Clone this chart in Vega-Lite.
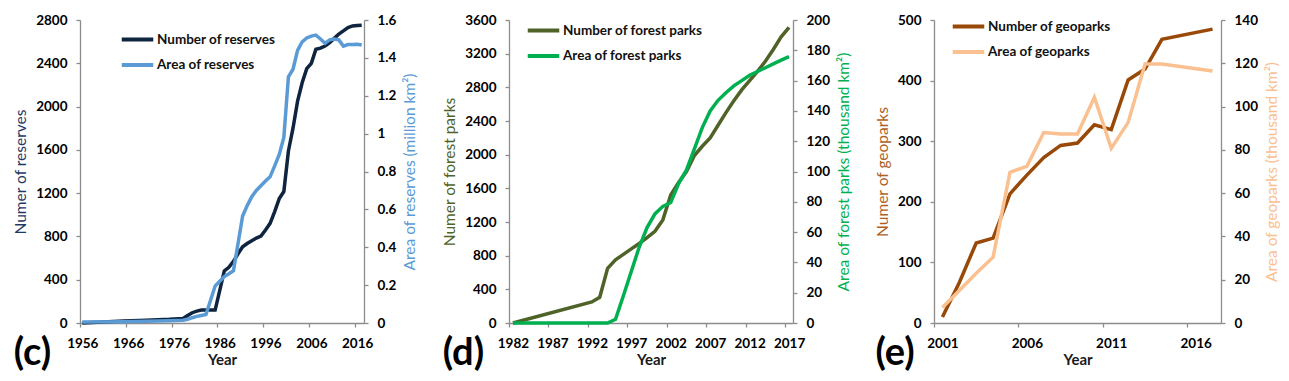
{
  "$schema": "https://vega.github.io/schema/vega-lite/v6.json",
  "padding": {"left": 13, "top": 13, "right": 0, "bottom": 0},
  "background": "white",
  "datasets": {
    "c_num": [
      {"Year":1956,"Value":1},{"Year":1965,"Value":18},{"Year":1970,"Value":26},{"Year":1975,"Value":34},{"Year":1978,"Value":42},{"Year":1979,"Value":70},{"Year":1980,"Value":95},{"Year":1981,"Value":110},{"Year":1982,"Value":119},{"Year":1983,"Value":119},{"Year":1984,"Value":119},{"Year":1985,"Value":119},{"Year":1986,"Value":300},{"Year":1987,"Value":481},{"Year":1988,"Value":515},{"Year":1989,"Value":570},{"Year":1990,"Value":640},{"Year":1991,"Value":705},{"Year":1992,"Value":735},{"Year":1993,"Value":761},{"Year":1994,"Value":785},{"Year":1995,"Value":804},{"Year":1996,"Value":860},{"Year":1997,"Value":921},{"Year":1998,"Value":1030},{"Year":1999,"Value":1150},{"Year":2000,"Value":1215},{"Year":2001,"Value":1590},{"Year":2002,"Value":1800},{"Year":2003,"Value":2050},{"Year":2004,"Value":2220},{"Year":2005,"Value":2350},{"Year":2006,"Value":2400},{"Year":2007,"Value":2530},{"Year":2008,"Value":2540},{"Year":2009,"Value":2560},{"Year":2010,"Value":2590},{"Year":2011,"Value":2630},{"Year":2012,"Value":2670},{"Year":2013,"Value":2700},{"Year":2014,"Value":2730},{"Year":2015,"Value":2745},{"Year":2016,"Value":2750},{"Year":2017,"Value":2752}
    ],
    "c_area": [
      {"Year":1956,"Value":0.005},{"Year":1965,"Value":0.007},{"Year":1970,"Value":0.009},{"Year":1975,"Value":0.012},{"Year":1978,"Value":0.015},{"Year":1979,"Value":0.02},{"Year":1980,"Value":0.028},{"Year":1981,"Value":0.035},{"Year":1982,"Value":0.04},{"Year":1983,"Value":0.045},{"Year":1984,"Value":0.12},{"Year":1985,"Value":0.195},{"Year":1986,"Value":0.22},{"Year":1987,"Value":0.245},{"Year":1988,"Value":0.26},{"Year":1989,"Value":0.276},{"Year":1990,"Value":0.42},{"Year":1991,"Value":0.565},{"Year":1992,"Value":0.62},{"Year":1993,"Value":0.667},{"Year":1994,"Value":0.7},{"Year":1995,"Value":0.725},{"Year":1996,"Value":0.75},{"Year":1997,"Value":0.772},{"Year":1998,"Value":0.83},{"Year":1999,"Value":0.89},{"Year":2000,"Value":0.98},{"Year":2001,"Value":1.3},{"Year":2002,"Value":1.34},{"Year":2003,"Value":1.44},{"Year":2004,"Value":1.485},{"Year":2005,"Value":1.505},{"Year":2006,"Value":1.515},{"Year":2007,"Value":1.52},{"Year":2008,"Value":1.5},{"Year":2009,"Value":1.477},{"Year":2010,"Value":1.495},{"Year":2011,"Value":1.5},{"Year":2012,"Value":1.495},{"Year":2013,"Value":1.462},{"Year":2014,"Value":1.47},{"Year":2015,"Value":1.47},{"Year":2016,"Value":1.472},{"Year":2017,"Value":1.468}
    ],
    "d_num": [
      {"Year":1982,"Value":0},{"Year":1992,"Value":250},{"Year":1993,"Value":305},{"Year":1994,"Value":650},{"Year":1995,"Value":750},{"Year":1996,"Value":815},{"Year":1997,"Value":880},{"Year":1998,"Value":945},{"Year":1999,"Value":1015},{"Year":2000,"Value":1090},{"Year":2001,"Value":1225},{"Year":2002,"Value":1520},{"Year":2003,"Value":1670},{"Year":2004,"Value":1800},{"Year":2005,"Value":1990},{"Year":2006,"Value":2100},{"Year":2007,"Value":2200},{"Year":2008,"Value":2350},{"Year":2009,"Value":2500},{"Year":2010,"Value":2640},{"Year":2011,"Value":2770},{"Year":2012,"Value":2880},{"Year":2013,"Value":2990},{"Year":2014,"Value":3110},{"Year":2015,"Value":3250},{"Year":2016,"Value":3400},{"Year":2017,"Value":3513}
    ],
    "d_area": [
      {"Year":1982,"Value":0},{"Year":1994,"Value":0},{"Year":1995,"Value":2.5},{"Year":1996,"Value":18},{"Year":1997,"Value":34},{"Year":1998,"Value":50},{"Year":1999,"Value":63},{"Year":2000,"Value":72},{"Year":2001,"Value":77},{"Year":2002,"Value":79.5},{"Year":2003,"Value":92},{"Year":2004,"Value":101},{"Year":2005,"Value":115},{"Year":2006,"Value":129},{"Year":2007,"Value":140},{"Year":2008,"Value":147},{"Year":2009,"Value":152},{"Year":2010,"Value":156.5},{"Year":2011,"Value":160},{"Year":2012,"Value":163.5},{"Year":2013,"Value":166},{"Year":2014,"Value":168.5},{"Year":2015,"Value":171},{"Year":2016,"Value":173.5},{"Year":2017,"Value":175.8}
    ],
    "e_num": [
      {"Year":2001,"Value":10},{"Year":2002,"Value":67},{"Year":2003,"Value":132},{"Year":2004,"Value":140},{"Year":2005,"Value":213},{"Year":2006,"Value":244},{"Year":2007,"Value":273},{"Year":2008,"Value":293},{"Year":2009,"Value":297},{"Year":2010,"Value":327},{"Year":2011,"Value":319},{"Year":2012,"Value":401},{"Year":2013,"Value":419},{"Year":2014,"Value":468},{"Year":2017,"Value":485}
    ],
    "e_area": [
      {"Year":2001,"Value":7.2},{"Year":2002,"Value":15},{"Year":2003,"Value":23},{"Year":2004,"Value":30.4},{"Year":2005,"Value":69.6},{"Year":2006,"Value":72.4},{"Year":2007,"Value":88},{"Year":2008,"Value":87.3},{"Year":2009,"Value":87.3},{"Year":2010,"Value":104.3},{"Year":2011,"Value":80.7},{"Year":2012,"Value":92.7},{"Year":2013,"Value":119.7},{"Year":2014,"Value":119.7},{"Year":2017,"Value":116.4}
    ]
  },
  "spacing": 23,
  "hconcat": [
    {
      "width": 284, "height": 303,
      "title": {"text": "(c)", "orient": "bottom", "anchor": "start", "frame": "bounds", "fontSize": 38, "fontWeight": "bold", "font": "Lato", "color": "#000000", "offset": -33},
      "encoding": {
        "x": {"field": "Year", "type": "quantitative",
          "scale": {"domain": [1955.5, 2017.5], "nice": false, "zero": false},
          "axis": {"values": [1956, 1966, 1976, 1986, 1996, 2006, 2016], "format": "d", "tickOffset": -2.29, "labelOffset": 2.29, "title": "Year"}}
      },
      "layer": [
        {"data": {"name": "c_num"}, "mark": {"type": "line", "strokeWidth": 3.5},
          "encoding": {
            "y": {"field": "Value", "type": "quantitative", "scale": {"domain": [0, 2800], "nice": false},
              "axis": {"orient": "left", "values": [0, 400, 800, 1200, 1600, 2000, 2400, 2800], "format": "d", "title": "Numer of reserves", "titleColor": "#1F3864"}},
            "color": {"datum": "Number of reserves", "type": "nominal",
              "scale": {"domain": ["Number of reserves", "Area of reserves"], "range": ["#0F243E", "#5B9BD5"]},
              "legend": {"legendX": 45, "legendY": 7}}
          }},
        {"data": {"name": "c_area"}, "mark": {"type": "line", "strokeWidth": 3.5},
          "encoding": {
            "y": {"field": "Value", "type": "quantitative", "scale": {"domain": [0, 1.6], "nice": false},
              "axis": {"orient": "right", "values": [0, 0.2, 0.4, 0.6, 0.8, 1, 1.2, 1.4, 1.6], "format": "~g", "title": "Area of reserves (million km²)", "titleColor": "#5B9BD5", "titleAngle": 270, "titleBaseline": "top"}},
            "color": {"datum": "Area of reserves", "type": "nominal",
              "scale": {"domain": ["Number of reserves", "Area of reserves"], "range": ["#0F243E", "#5B9BD5"]},
              "legend": {"legendX": 45, "legendY": 7}}
          }}
      ],
      "resolve": {"scale": {"y": "independent"}}
    },
    {
      "width": 284, "height": 303,
      "title": {"text": "(d)", "orient": "bottom", "anchor": "start", "frame": "bounds", "fontSize": 38, "fontWeight": "bold", "font": "Lato", "color": "#000000", "offset": -33},
      "encoding": {
        "x": {"field": "Year", "type": "quantitative",
          "scale": {"domain": [1981.5, 2017.5], "nice": false, "zero": false},
          "axis": {"values": [1982, 1987, 1992, 1997, 2002, 2007, 2012, 2017], "format": "d", "tickOffset": -3.94, "labelOffset": 3.94, "title": "Year"}}
      },
      "layer": [
        {"data": {"name": "d_num"}, "mark": {"type": "line", "strokeWidth": 3.5},
          "encoding": {
            "y": {"field": "Value", "type": "quantitative", "scale": {"domain": [0, 3600], "nice": false},
              "axis": {"orient": "left", "values": [0, 400, 800, 1200, 1600, 2000, 2400, 2800, 3200, 3600], "format": "d", "title": "Numer of forest parks", "titleColor": "#4F6228"}},
            "color": {"datum": "Number of forest parks", "type": "nominal",
              "scale": {"domain": ["Number of forest parks", "Area of forest parks"], "range": ["#4F6228", "#00B050"]},
              "legend": {"legendX": 22, "legendY": -2}}
          }},
        {"data": {"name": "d_area"}, "mark": {"type": "line", "strokeWidth": 3.5},
          "encoding": {
            "y": {"field": "Value", "type": "quantitative", "scale": {"domain": [0, 200], "nice": false},
              "axis": {"orient": "right", "values": [0, 20, 40, 60, 80, 100, 120, 140, 160, 180, 200], "format": "d", "title": "Area of forest parks (thousand km²)", "titleColor": "#00B050", "titleAngle": 270, "titleBaseline": "top"}},
            "color": {"datum": "Area of forest parks", "type": "nominal",
              "scale": {"domain": ["Number of forest parks", "Area of forest parks"], "range": ["#4F6228", "#00B050"]},
              "legend": {"legendX": 22, "legendY": -2}}
          }}
      ],
      "resolve": {"scale": {"y": "independent"}}
    },
    {
      "width": 287, "height": 303,
      "title": {"text": "(e)", "orient": "bottom", "anchor": "start", "frame": "bounds", "fontSize": 38, "fontWeight": "bold", "font": "Lato", "color": "#000000", "offset": -33},
      "encoding": {
        "x": {"field": "Year", "type": "quantitative",
          "scale": {"domain": [2000.5, 2017.5], "nice": false, "zero": false},
          "axis": {"values": [2001, 2006, 2011, 2016], "format": "d", "tickOffset": -8.45, "labelOffset": 8.45, "title": "Year"}}
      },
      "layer": [
        {"data": {"name": "e_num"}, "mark": {"type": "line", "strokeWidth": 3.5},
          "encoding": {
            "y": {"field": "Value", "type": "quantitative", "scale": {"domain": [0, 500], "nice": false},
              "axis": {"orient": "left", "values": [0, 100, 200, 300, 400, 500], "format": "d", "title": "Numer of geoparks", "titleColor": "#B0601E"}},
            "color": {"datum": "Number of geoparks", "type": "nominal",
              "scale": {"domain": ["Number of geoparks", "Area of geoparks"], "range": ["#984807", "#FAC090"]},
              "legend": {"legendX": 22, "legendY": -6}}
          }},
        {"data": {"name": "e_area"}, "mark": {"type": "line", "strokeWidth": 3.5},
          "encoding": {
            "y": {"field": "Value", "type": "quantitative", "scale": {"domain": [0, 140], "nice": false},
              "axis": {"orient": "right", "values": [0, 20, 40, 60, 80, 100, 120, 140], "format": "d", "title": "Area of geoparks (thousand km²)", "titleColor": "#FAC090", "titleAngle": 270, "titleBaseline": "top"}},
            "color": {"datum": "Area of geoparks", "type": "nominal",
              "scale": {"domain": ["Number of geoparks", "Area of geoparks"], "range": ["#984807", "#FAC090"]},
              "legend": {"legendX": 22, "legendY": -6}}
          }}
      ],
      "resolve": {"scale": {"y": "independent"}}
    }
  ],
  "resolve": {"scale": {"color": "independent"}, "legend": {"color": "independent"}},
  "config": {
    "view": {"stroke": null},
    "font": "Lato",
    "axis": {
      "grid": false,
      "domainColor": "#8C8C8C", "domainWidth": 1.3,
      "tickColor": "#8C8C8C", "tickWidth": 1.3, "tickSize": 4,
      "labelFont": "Lato", "labelFontSize": 13.5, "labelFontWeight": "bold", "labelColor": "#000000", "labelPadding": 9, "labelOverlap": false, "labelFlush": false,
      "titleFont": "Lato", "titleFontSize": 15.5, "titleFontWeight": "normal", "titlePadding": 7
    },
    "axisX": {"titleColor": "#1A1A1A", "titleFontWeight": "bold", "titlePadding": 3, "titleFontSize": 15},
    "legend": {
      "orient": "none", "title": null, "padding": 0, "rowPadding": 4.5,
      "symbolType": "M-1.5,0L1.5,0", "symbolSize": 441, "symbolStrokeWidth": 4,
      "labelFont": "Lato", "labelFontSize": 13.5, "labelFontWeight": "bold", "labelColor": "#111111", "labelOffset": 7
    }
  }
}
